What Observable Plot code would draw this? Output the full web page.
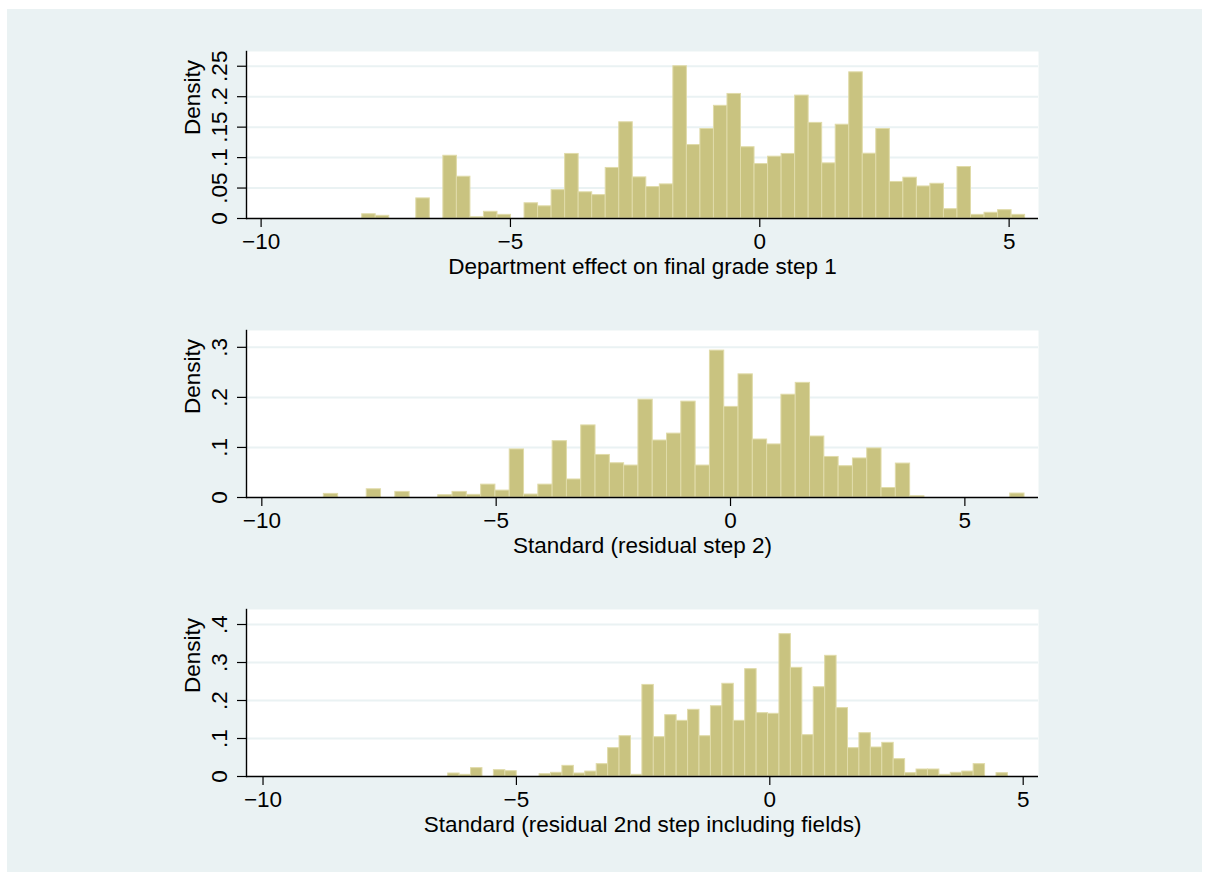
<!DOCTYPE html>
<html><head><meta charset="utf-8">
<script src="https://cdn.jsdelivr.net/npm/d3@7"></script>
<script src="https://cdn.jsdelivr.net/npm/@observablehq/plot@0.6"></script>
<style>
body{margin:0;background:#fff;}
#wrap{position:relative;width:1209px;height:880px;background:#fff;overflow:hidden;}
#bg{position:absolute;left:7px;top:9px;width:1195px;height:863px;background:#EAF2F3;}
.panel{position:absolute;left:0;}
</style></head><body><div id="wrap"><div id="bg"></div></div>
<script>
// Panel 1: Department effect on final grade step 1
const p1Title = "Department effect on final grade step 1";
const p1BinStart = -7.973, p1BinWidth = 0.2713;
const p1Density = [0.007,0.0044,0,0,0.033,0,0.103,0.0686,0.002,0.011,0.006,0,0.025,0.020,0.0466,0.106,0.043,0.0384,0.083,0.158,0.0675,0.0516,0.056,0.250,0.1206,0.147,0.185,0.2045,0.117,0.0894,0.1015,0.106,0.2018,0.157,0.0905,0.154,0.240,0.1064,0.147,0.060,0.067,0.0526,0.057,0.0153,0.0845,0.006,0.0094,0.0137,0.006];
const p1YTicks = [0,0.05,0.1,0.15,0.2,0.25];

// Panel 2: Standard (residual step 2)
const p2Title = "Standard (residual step 2)";
const p2BinStart = -8.677, p2BinWidth = 0.3051;
const p2Density = [0.0072,0,0,0.0164,0,0.0112,0,0,0.0046,0.0112,0.0053,0.0257,0.0138,0.096,0.0059,0.0257,0.1125,0.036,0.144,0.085,0.0684,0.0638,0.1954,0.1138,0.1276,0.1915,0.0638,0.2934,0.181,0.246,0.1158,0.106,0.2053,0.229,0.1218,0.081,0.0625,0.078,0.098,0.019,0.0678,0.0025,0,0,0,0,0,0,0.0079];
const p2YTicks = [0,0.1,0.2,0.3];

// Panel 3: Standard (residual 2nd step including fields)
const p3Title = "Standard (residual 2nd step including fields)";
const p3BinStart = -6.346, p3BinWidth = 0.2254;
const p3Density = [0.0079,0.0044,0.022,0,0.0167,0.014,0,0,0.006,0.0097,0.028,0.0079,0.013,0.0325,0.0746,0.106,0.0044,0.241,0.1035,0.1614,0.1465,0.1755,0.106,0.185,0.244,0.1465,0.2825,0.1667,0.165,0.3746,0.286,0.1088,0.235,0.3176,0.18,0.0746,0.114,0.0763,0.0886,0.0456,0.0088,0.0184,0.0184,0.0044,0.0097,0.013,0.0325,0,0.0088];
const p3YTicks = [0,0.1,0.2,0.3,0.4];

const xTicks = [-10,-5,0,5];
const yLabel = "Density";

const fmtY = d => d === 0 ? "0" : String(d).replace(/^0/, "");

function panel(top, start, bw, density, xDomain, yDomain, yTicks, title) {
  const bins = density.map((d, i) => ({x1: start + i * bw, x2: start + (i + 1) * bw, density: d}))
                      .filter(d => d.density > 0);
  const svg = Plot.plot({
    width: 1209, height: 279,
    marginLeft: 246, marginRight: 171, marginTop: 51, marginBottom: 61,
    style: {fontFamily: "'Liberation Sans', Arial, sans-serif", fontSize: "22.5px", background: "transparent", color: "black", overflow: "visible"},
    x: {domain: xDomain},
    y: {domain: yDomain},
    marks: [
      Plot.frame({fill: "white", stroke: null}),
      Plot.gridY(yTicks.filter(t => t > 0), {stroke: "#EAF2F3", strokeOpacity: 1, strokeWidth: 2}),
      Plot.rectY(bins, {x1: "x1", x2: "x2", y: "density", fill: "#C9C380", stroke: "#E0DBA9", strokeWidth: 1}),
      Plot.axisY(yTicks, {tickSize: 9, tickRotate: -90, tickPadding: 11, tickFormat: fmtY, label: null, strokeWidth: 1.2}),
      Plot.axisX(xTicks, {tickSize: 9, tickPadding: 6, label: null, strokeWidth: 1.2}),
      Plot.ruleY([0], {stroke: "black", strokeWidth: 1.4}),
      Plot.frame({anchor: "left", stroke: "black", strokeWidth: 1.4}),
      Plot.text([title], {frameAnchor: "bottom", dy: 40, lineAnchor: "top", text: d => d}),
      Plot.text([yLabel], {frameAnchor: "left", dx: -47, rotate: -90, lineAnchor: "bottom", text: d => d})
    ]
  });
  svg.classList.add("panel");
  svg.style.top = top + "px";
  svg.style.position = "absolute";
  document.getElementById("wrap").appendChild(svg);
}

panel(0, p1BinStart, p1BinWidth, p1Density, [-10.293, 5.589], [0, 0.2742], p1YTicks, p1Title);
panel(279, p2BinStart, p2BinWidth, p2Density, [-10.327, 6.571], [0, 0.3336], p2YTicks, p2Title);
panel(558, p3BinStart, p3BinWidth, p3Density, [-10.326, 5.302], [0, 0.4395], p3YTicks, p3Title);
</script></body></html>
